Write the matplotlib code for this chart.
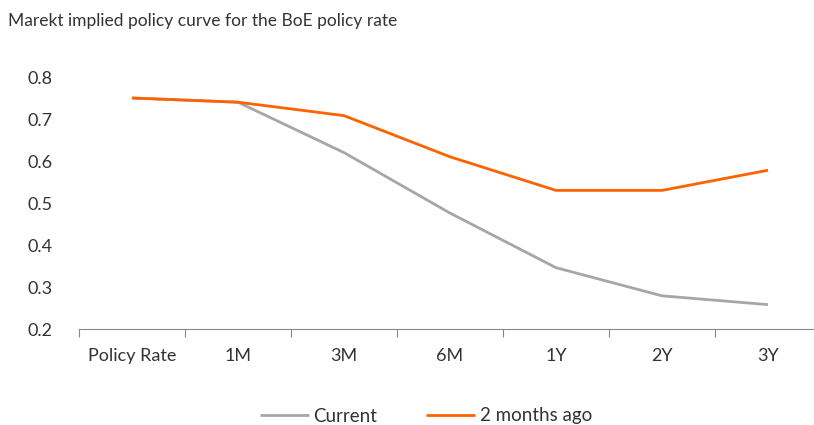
import matplotlib
matplotlib.use("Agg")
import matplotlib.pyplot as plt
import numpy as np

categories = ["Policy Rate", "1M", "3M", "6M", "1Y", "2Y", "3Y"]
current = [0.75, 0.74, 0.62, 0.476, 0.346, 0.279, 0.258]
two_months_ago = [0.75, 0.74, 0.708, 0.61, 0.53, 0.53, 0.578]
yticks = [0.2, 0.3, 0.4, 0.5, 0.6, 0.7, 0.8]

plt.rcParams['font.family'] = ['Lato', 'DejaVu Sans']
fig = plt.figure(figsize=(8.14, 4.25), dpi=100)
ax = fig.add_axes([79/814, 96/425, 742/814, 252/425])

x = np.arange(len(categories))
ax.plot(x, current, color="#A6A6A6", lw=2.0, label="Current", solid_capstyle="butt")
ax.plot(x, two_months_ago, color="#FF6200", lw=2.0, label="2 months ago", solid_capstyle="butt")

ax.set_xlim(-0.5, len(categories) - 0.5)
ax.set_ylim(0.2, 0.8)
ax.set_yticks(yticks)
ax.set_yticklabels([f"{v:.1f}" for v in yticks])
ax.set_xticks(x)
ax.set_xticklabels(categories)
ax.set_xticks(np.arange(-0.5, len(categories)), minor=True)
ax.tick_params(axis="x", which="major", length=0, pad=14, labelsize=13, labelcolor="#333333")
ax.tick_params(axis="x", which="minor", length=6, color="#888888", width=0.8)
ax.tick_params(axis="y", length=0, pad=19, labelsize=13, labelcolor="#333333")
for s in ["top", "right", "left"]:
    ax.spines[s].set_visible(False)
ax.spines["bottom"].set_color("#888888")
ax.spines["bottom"].set_linewidth(0.8)

fig.text(8/814, 1 - 21/425, "Marekt implied policy curve for the BoE policy rate",
         fontsize=12.5, color="#333333", va="center", ha="left")

fig.legend(loc="center", bbox_to_anchor=(426/814, 1 - 416/425), ncol=2, frameon=False,
           fontsize=13.5, handlelength=2.6, columnspacing=2.6, handletextpad=0.25,
           labelcolor="#333333")

fig.savefig("out.png", dpi=100)
